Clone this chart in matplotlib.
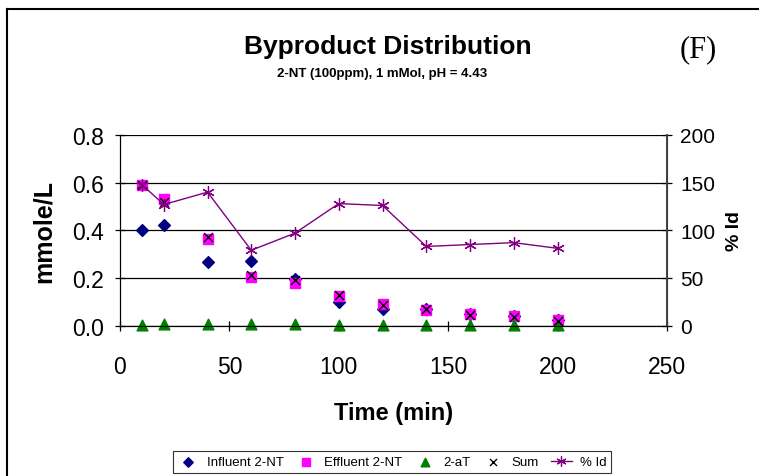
import numpy as np
import matplotlib as mpl
mpl.use('Agg')
import matplotlib.pyplot as plt
from matplotlib.lines import Line2D

plt.rcParams['font.family'] = ['Liberation Sans', 'DejaVu Sans']

# data
time = [10, 20, 40, 60, 80, 100, 120, 140, 160, 180, 200]
influent = [0.40, 0.42, 0.265, 0.27, 0.195, 0.10, 0.068, 0.07, 0.05, 0.04, 0.025]
effluent = [0.59, 0.53, 0.365, 0.205, 0.18, 0.125, 0.09, 0.065, 0.05, 0.04, 0.025]
amino = [0.004, 0.006, 0.008, 0.006, 0.006, 0.004, 0.003, 0.003, 0.003, 0.003, 0.003]
total = [0.59, 0.52, 0.37, 0.21, 0.19, 0.13, 0.085, 0.07, 0.045, 0.035, 0.02]
pct_id = [148, 127, 140, 79, 97, 128, 126, 83, 85, 87, 81]

fig = plt.figure(figsize=(7.59, 4.77), dpi=100)
W, H = 759, 477
ax = fig.add_axes([120 / W, 1 - 326.5 / H, (667 - 120) / W, (326.5 - 136) / H])
ax2 = ax.twinx()

ax.scatter(time, influent, marker='D', s=36, color='#000080', zorder=3, label='Influent 2-NT')
ax.scatter(time, effluent, marker='s', s=60, color='#ff00ff', zorder=3, label='Effluent 2-NT')
ax.scatter(time, amino, marker='^', s=60, color='#008000', zorder=3, label='2-aT', clip_on=False)
ax.scatter(time, total, marker='x', s=40, color='black', linewidths=1.0, zorder=4, label='Sum')
ax2.plot(time, pct_id, color='#800080', lw=1.0, marker=(6, 2, 0), ms=9, mew=0.9, label='% Id')

ax.set_xlim(0, 250)
ax.set_ylim(0, 0.8)
ax2.set_ylim(0, 200)
ax.set_xticks(np.arange(0, 251, 50))
ax.set_yticks(np.arange(0, 0.81, 0.2))
ax.set_yticklabels(['%.1f' % v for v in np.arange(0, 0.81, 0.2)])
ax2.set_yticks(np.arange(0, 201, 50))
ax.grid(axis='y', color='black', lw=0.9)
ax.set_axisbelow(True)

for a in (ax, ax2):
    a.spines['top'].set_visible(False)
    a.tick_params(direction='inout', length=7, width=0.9, labelsize=16.5, pad=8)
ax2.tick_params(labelsize=15, pad=6)
ax2.spines['right'].set_color('#404040')
ax2.spines['right'].set_linewidth(1.4)
ax.tick_params(axis='x', pad=18)

ax.set_xlabel('Time (min)', fontsize=17, fontweight='bold', labelpad=16)
ax.set_ylabel('mmole/L', fontsize=18, fontweight='bold', labelpad=12)
ax2.set_ylabel('% Id', fontsize=14, fontweight='bold', labelpad=8)

fig.text(388 / W, 1 - 47 / H, 'Byproduct Distribution', fontsize=19, fontweight='bold',
         ha='center', va='center')
fig.text(382 / W, 1 - 74 / H, '2-NT (100ppm), 1 mMol, pH = 4.43', fontsize=9.5,
         fontweight='bold', ha='center', va='center')
fig.text(698 / W, 1 - 50 / H, '(F)', fontsize=22, family='Liberation Serif',
         ha='center', va='center')

# chart frame (top and left edges visible)
fig.add_artist(Line2D([7 / W, 1], [1 - 10 / H, 1 - 10 / H], transform=fig.transFigure,
                      color='black', lw=1.5))
fig.add_artist(Line2D([7 / W, 7 / W], [0, 1 - 10 / H], transform=fig.transFigure,
                      color='black', lw=1.5))

h1, l1 = ax.get_legend_handles_labels()
h2, l2 = ax2.get_legend_handles_labels()
leg = fig.legend(h1 + h2, l1 + l2, loc='center', bbox_to_anchor=(392 / W, 1 - 463 / H),
                 ncol=5, fontsize=9.5, frameon=True, fancybox=False, edgecolor='black',
                 handlelength=1.6, handletextpad=0.6, columnspacing=0.9,
                 borderpad=0.35, markerscale=0.8)
leg.get_frame().set_linewidth(0.8)

fig.savefig('out.png', dpi=100)
